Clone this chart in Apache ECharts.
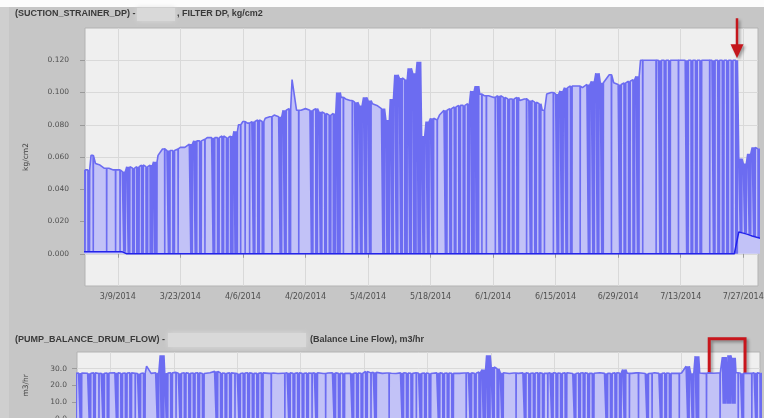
<!DOCTYPE html>
<html>
<head>
<meta charset="utf-8">
<script src="https://cdn.jsdelivr.net/npm/echarts@6/dist/echarts.min.js"></script>
<style>
    html, body {margin: 0; padding: 0; background: #c6c6c6;}
    #main {width: 764px; height: 418px;}
</style>
</head>
<body>
<div id="main"></div>
<script>
// x is counted in days from 3/1/2014
var dayMin = 0.65, dayMax = 151.3;
var dateTicks = [8, 22, 36, 50, 64, 78, 92, 106, 120, 134, 148];
var dpTicks = [0, 0.02, 0.04, 0.06, 0.08, 0.1, 0.12];
var flowTicks = [0, 10, 20, 30];

// SUCTION_STRAINER_DP, daily upper level (kg/cm2)
var dpHigh = [
    0.052, 0.052, 0.061, 0.056, 0.055, 0.053, 0.053, 0.052, 0.052, 0.051,
    0.054, 0.053, 0.054, 0.055, 0.054, 0.055, 0.057, 0.061, 0.065, 0.064,
    0.064, 0.065, 0.066, 0.066, 0.068, 0.070, 0.070, 0.071, 0.072, 0.072,
    0.072, 0.073, 0.072, 0.073, 0.076, 0.080, 0.082, 0.081, 0.082, 0.083,
    0.082, 0.084, 0.085, 0.086, 0.085, 0.089, 0.090, 0.108, 0.089, 0.089,
    0.090, 0.089, 0.090, 0.088, 0.087, 0.086, 0.087, 0.100, 0.097, 0.096,
    0.095, 0.094, 0.092, 0.097, 0.095, 0.093, 0.092, 0.090, 0.083, 0.096,
    0.111, 0.109, 0.108, 0.115, 0.112, 0.119, 0.073, 0.082, 0.084, 0.083,
    0.086, 0.089, 0.090, 0.091, 0.092, 0.092, 0.093, 0.101, 0.104, 0.099,
    0.098, 0.098, 0.097, 0.098, 0.097, 0.096, 0.096, 0.097, 0.095, 0.096,
    0.095, 0.094, 0.093, 0.089, 0.099, 0.100, 0.099, 0.101, 0.103, 0.104,
    0.105, 0.104, 0.103, 0.105, 0.107, 0.112, 0.106, 0.105, 0.111, 0.106,
    0.105, 0.106, 0.107, 0.108, 0.110, 0.120, 0.120, 0.120, 0.120, 0.120,
    0.120, 0.120, 0.120, 0.120, 0.120, 0.120, 0.120, 0.120, 0.120, 0.120,
    0.120, 0.120, 0.120, 0.120, 0.120, 0.120, 0.120, 0.059, 0.056, 0.062,
    0.066, 0.065, 0.065
];
// daily lower level (kg/cm2)
var dpLow = [
    0.0012, 0.0012, 0.0012, 0.0012, 0.0012, 0.0012, 0.0012, 0.0012, 0.0012, 0.0012,
    0, 0, 0, 0, 0, 0, 0, 0, 0, 0,
    0, 0, 0, 0, 0, 0, 0, 0, 0, 0,
    0, 0, 0, 0, 0, 0, 0, 0, 0, 0,
    0, 0, 0, 0, 0, 0, 0, 0, 0, 0,
    0, 0, 0, 0, 0, 0, 0, 0, 0, 0,
    0, 0, 0, 0, 0, 0, 0, 0, 0, 0,
    0, 0, 0, 0, 0, 0, 0, 0, 0, 0,
    0, 0, 0, 0, 0, 0, 0, 0, 0, 0,
    0, 0, 0, 0, 0, 0, 0, 0, 0, 0,
    0, 0, 0, 0, 0, 0, 0, 0, 0, 0,
    0, 0, 0, 0, 0, 0, 0, 0, 0, 0,
    0, 0, 0, 0, 0, 0, 0, 0, 0, 0,
    0, 0, 0, 0, 0, 0, 0, 0, 0, 0,
    0, 0, 0, 0, 0, 0, 0, 0.0135, 0.0128, 0.012,
    0.011, 0.0102, 0.0095
];
// how many times a day it fell to the lower level
var dpDrops = [
    2, 2, 1, 0, 0, 1, 0, 1, 1, 2, 2, 2, 3, 2, 2, 3, 3, 0, 1, 2,
    2, 1, 0, 0, 2, 2, 2, 1, 0, 2, 2, 2, 2, 3, 3, 1, 1, 1, 2, 2,
    2, 0, 1, 0, 2, 2, 2, 0, 1, 0, 0, 2, 2, 2, 2, 2, 3, 3, 1, 0,
    1, 2, 2, 2, 2, 0, 0, 2, 3, 2, 2, 2, 3, 2, 3, 3, 2, 2, 2, 1,
    0, 2, 2, 2, 2, 2, 2, 3, 3, 1, 1, 0, 1, 2, 2, 2, 2, 2, 0, 1,
    2, 2, 2, 1, 0, 1, 2, 2, 2, 2, 0, 1, 0, 2, 2, 2, 2, 0, 1, 0,
    2, 2, 2, 2, 2, 1, 0, 0, 1, 2, 2, 2, 0, 1, 0, 2, 2, 2, 2, 0,
    1, 2, 2, 2, 2, 2, 2, 2, 2, 2, 2, 2, 2
];

// PUMP_BALANCE_DRUM_FLOW, daily upper level (m3/hr)
var flowHigh = [
    27.2, 27.4, 27.0, 27.3, 27.5, 27.1, 27.2, 27.4, 27.3, 27.6,
    27.2, 27.4, 27.5, 27.3, 27.1, 27.4, 31.5, 27.2, 27.6, 38.0,
    27.4, 27.5, 27.8, 27.3, 27.6, 27.2, 27.4, 27.5, 27.1, 27.3,
    27.6, 28.4, 27.4, 27.2, 27.5, 27.3, 27.1, 27.4, 27.6, 27.2,
    27.3, 27.5, 27.0, 27.2, 27.4, 27.1, 27.3, 27.6, 27.2, 27.5,
    27.3, 27.4, 27.2, 27.6, 27.3, 27.1, 27.4, 27.5, 27.2, 27.3,
    27.6, 27.2, 27.4, 27.3, 28.3, 27.5, 27.8, 28.5, 27.2, 27.4,
    27.3, 27.1, 27.5, 27.4, 27.2, 27.6, 27.3, 27.4, 27.1, 27.3,
    27.5, 27.2, 27.4, 27.3, 27.6, 27.2, 27.4, 27.5, 27.3, 28.0,
    29.5, 38.0, 31.0, 30.0, 27.6, 27.3, 27.1, 27.4, 27.2, 27.5,
    27.3, 27.4, 27.6, 27.2, 27.3, 27.5, 27.4, 27.2, 27.6, 27.3,
    27.1, 27.4, 27.5, 27.2, 27.3, 27.4, 27.6, 27.2, 27.3, 27.5,
    27.4, 29.5, 27.3, 27.2, 27.5, 27.4, 27.1, 27.3, 27.6, 27.2,
    27.4, 27.3, 27.5, 27.2, 27.4, 31.5, 27.3, 37.5, 27.4, 27.2,
    27.5, 27.3, 27.4, 37.0, 38.0, 36.5, 27.6, 27.3, 27.4, 27.2,
    27.5, 27.3, 27.4
];
var flowLow = [
    0, 0, 0, 0, 0, 0, 0, 0, 0, 0, 0, 0, 0, 0, 0, 0, 0, 0, 0, 0,
    0, 0, 0, 0, 0, 0, 0, 0, 0, 0, 0, 0, 0, 0, 0, 0, 0, 0, 0, 0,
    0, 0, 0, 0, 0, 0, 0, 0, 0, 0, 0, 0, 0, 0, 0, 0, 0, 0, 0, 0,
    0, 0, 0, 0, 0, 0, 0, 0, 0, 0, 0, 0, 0, 0, 0, 0, 0, 0, 0, 0,
    0, 0, 0, 0, 0, 0, 0, 0, 0, 0, 0, 0, 0, 0, 0, 0, 0, 0, 0, 0,
    0, 0, 0, 0, 0, 0, 0, 0, 0, 0, 0, 0, 0, 0, 0, 0, 0, 0, 0, 0,
    0, 0, 0, 0, 0, 0, 0, 0, 0, 0, 0, 0, 0, 0, 0, 0, 0, 0, 0, 0,
    0, 0, 0, 9, 9, 9, 0, 0, 0, 0, 0, 0, 0
];
var flowDrops = [
    1, 2, 0, 2, 2, 1, 2, 2, 0, 2, 2, 2, 2, 1, 2, 2, 0, 0, 2, 4,
    2, 2, 1, 2, 2, 2, 2, 2, 2, 0, 0, 2, 2, 2, 2, 1, 2, 2, 2, 2,
    2, 2, 0, 1, 0, 0, 1, 2, 2, 2, 2, 2, 1, 2, 0, 1, 0, 2, 2, 2,
    0, 2, 2, 2, 2, 1, 2, 0, 0, 1, 0, 0, 2, 2, 2, 1, 2, 2, 2, 0,
    2, 2, 2, 2, 0, 0, 1, 2, 2, 2, 3, 3, 2, 2, 2, 0, 0, 1, 0, 2,
    2, 2, 2, 2, 1, 2, 2, 2, 2, 0, 2, 2, 2, 2, 2, 0, 0, 2, 2, 2,
    2, 2, 1, 0, 1, 0, 2, 1, 0, 2, 2, 2, 0, 1, 0, 2, 2, 3, 0, 1,
    0, 0, 1, 4, 4, 4, 1, 2, 0, 1, 2, 2, 2
];

// annotation places (days / values)
var arrowDay = 146.7, arrowValue = 0.12;
var boxDays = [140.1, 148.0], boxValues = [48, -12];

var labelFont = 'DejaVu Sans';

function dayToDate(d) {
    var dt = new Date(Date.UTC(2014, 2, 1 + Math.round(d)));
    return (dt.getUTCMonth() + 1) + '/' + dt.getUTCDate() + '/' + dt.getUTCFullYear();
}

// each day: the upper level, and for every drop a quick fall to the lower level and back
function buildTrace(high, low, drops) {
    var pts = [];
    for (var i = 0; i < high.length; i++) {
        pts.push([i, high[i]]);
        var n = drops[i];
        for (var k = 1; k <= n; k++) {
            var t = i + k / (n + 1);
            pts.push([t - 0.03, high[i]]);
            pts.push([t, low[i]]);
            pts.push([t + 0.03, high[i]]);
        }
    }
    return pts;
}

function buildLine(values) {
    var pts = [];
    for (var i = 0; i < values.length; i++) {
        pts.push([i, values[i]]);
    }
    return pts;
}

function xAxisOf(gridIndex, showLabel) {
    return {
        type: 'value',
        gridIndex: gridIndex,
        min: dayMin,
        max: dayMax,
        axisLine: {show: false},
        axisTick: {show: true, length: 4, customValues: dateTicks, lineStyle: {color: '#9a9a9a'}},
        axisLabel: {
            show: showLabel,
            customValues: dateTicks,
            margin: 7,
            fontFamily: labelFont,
            fontSize: 8,
            color: '#505050',
            formatter: function (v) { return dayToDate(v); }
        },
        splitLine: {show: true, lineStyle: {color: '#d9d9d9', width: 1}}
    };
}

function init() {
    var myChart = echarts.init(document.getElementById('main'));
    var titleStyle = {fontFamily: 'Liberation Sans', fontSize: 9, fontWeight: 'bold', color: '#3a3a3a'};
    var option = {
        animation: false,
        backgroundColor: '#c6c6c6',
        title: [
            {text: '(SUCTION_STRAINER_DP) -', left: 15, top: 9, padding: 0, textStyle: titleStyle},
            {text: ', FILTER DP, kg/cm2', left: 177, top: 9, padding: 0, textStyle: titleStyle},
            {text: '(PUMP_BALANCE_DRUM_FLOW) -', left: 15, top: 335, padding: 0, textStyle: titleStyle},
            {text: '(Balance Line Flow), m3/hr', left: 310, top: 335, padding: 0, textStyle: titleStyle}
        ],
        grid: [
            {left: 85, top: 28, right: 6, height: 258, show: true, backgroundColor: '#efefef',
                borderColor: '#b3b3b3', borderWidth: 1, outerBoundsMode: 'none'},
            {left: 77, top: 352, right: 4, height: 66.8, show: true, backgroundColor: '#efefef',
                borderColor: '#b3b3b3', borderWidth: 1, outerBoundsMode: 'none'}
        ],
        xAxis: [xAxisOf(0, true), xAxisOf(1, false)],
        yAxis: [
            {
                type: 'value', gridIndex: 0, min: -0.02, max: 0.14, interval: 0.02,
                name: 'kg/cm2', nameLocation: 'middle', nameGap: 55,
                nameTextStyle: {fontFamily: labelFont, fontSize: 7.5, color: '#404040'},
                axisLine: {show: false},
                axisTick: {show: true, length: 5, customValues: dpTicks, lineStyle: {color: '#9a9a9a'}},
                axisLabel: {customValues: dpTicks, margin: 16, fontFamily: labelFont, fontSize: 7.5, color: '#505050',
                    formatter: function (v) { return v.toFixed(3); }},
                splitLine: {show: true, lineStyle: {color: '#d9d9d9'}}
            },
            {
                type: 'value', gridIndex: 1, min: 0, max: 40, interval: 10,
                name: 'm3/hr', nameLocation: 'middle', nameGap: 47,
                nameTextStyle: {fontFamily: labelFont, fontSize: 7.5, color: '#404040'},
                axisLine: {show: false},
                axisTick: {show: true, length: 5, customValues: flowTicks, lineStyle: {color: '#9a9a9a'}},
                axisLabel: {customValues: flowTicks, margin: 10, fontFamily: labelFont, fontSize: 7.5, color: '#505050',
                    formatter: function (v) { return v.toFixed(1); }},
                splitLine: {show: true, lineStyle: {color: '#d9d9d9'}}
            }
        ],
        series: [
            {
                name: 'SUCTION_STRAINER_DP', type: 'line', xAxisIndex: 0, yAxisIndex: 0,
                showSymbol: false, sampling: 'none',
                data: buildTrace(dpHigh, dpLow, dpDrops),
                lineStyle: {color: '#6c6cf1', width: 1.6},
                areaStyle: {color: '#c2c2f7', opacity: 1}
            },
            {
                name: 'DP base', type: 'line', xAxisIndex: 0, yAxisIndex: 0,
                showSymbol: false, data: buildLine(dpLow),
                lineStyle: {color: '#2323ec', width: 1.5}
            },
            {
                name: 'PUMP_BALANCE_DRUM_FLOW', type: 'line', xAxisIndex: 1, yAxisIndex: 1,
                showSymbol: false, sampling: 'none',
                data: buildTrace(flowHigh, flowLow, flowDrops),
                lineStyle: {color: '#6c6cf1', width: 1.6},
                areaStyle: {color: '#c2c2f7', opacity: 1}
            }
        ]
    };
    myChart.setOption(option);
    addMarks(myChart);
}

// frame, blurred names, red arrow and red box
function addMarks(myChart) {
    var tip = myChart.convertToPixel({gridIndex: 0}, [arrowDay, arrowValue]);
    var b0 = myChart.convertToPixel({gridIndex: 1}, [boxDays[0], boxValues[0]]);
    var b1 = myChart.convertToPixel({gridIndex: 1}, [boxDays[1], boxValues[1]]);
    var ax = Math.round(tip[0]), ay = tip[1] - 2;
    var redShadow = {shadowColor: 'rgba(0,0,0,0.35)', shadowBlur: 3, shadowOffsetX: 2, shadowOffsetY: 2};
    myChart.setOption({
        graphic: [
            {type: 'rect', z: -10, shape: {x: 0, y: 0, width: 764, height: 7}, style: {fill: '#fcfcfc'}},
            {type: 'rect', z: -10, shape: {x: 0, y: 7, width: 9, height: 411}, style: {fill: '#cfcfcf'}},
            {type: 'rect', shape: {x: 137, y: 8, width: 38, height: 13},
                style: {fill: '#d9d9d9', shadowColor: '#d9d9d9', shadowBlur: 5}},
            {type: 'rect', shape: {x: 168, y: 333, width: 138, height: 14},
                style: {fill: '#d9d9d9', shadowColor: '#d9d9d9', shadowBlur: 5}},
            {type: 'line', shape: {x1: ax, y1: ay - 40, x2: ax, y2: ay - 12},
                style: Object.assign({stroke: '#c4161c', lineWidth: 2.5}, redShadow)},
            {type: 'polygon', shape: {points: [[ax - 6.5, ay - 14], [ax + 6.5, ay - 14], [ax, ay]]},
                style: Object.assign({fill: '#c4161c'}, redShadow)},
            {type: 'rect', shape: {x: b0[0], y: b0[1], width: b1[0] - b0[0], height: b1[1] - b0[1]},
                style: Object.assign({fill: 'none', stroke: '#c8161c', lineWidth: 3}, redShadow)}
        ]
    });
}

init();
</script>
</body>
</html>
